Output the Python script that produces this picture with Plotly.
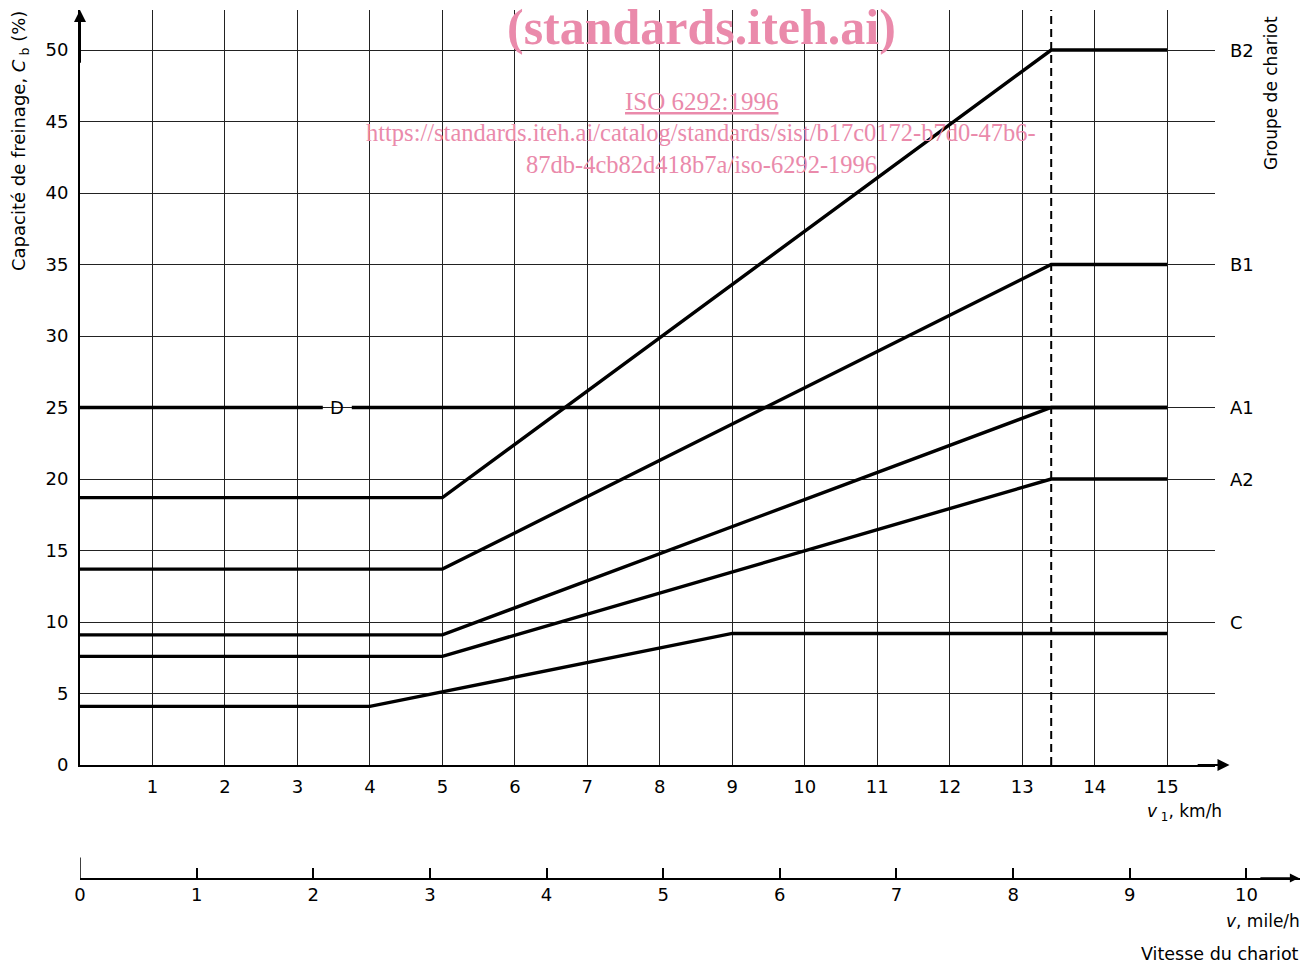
import plotly.graph_objects as go

# ---- data (km/h vs braking capacity %) ----
x_flat5 = [0, 5, 13.4, 15]
y_B2 = [18.7, 18.7, 50, 50]
y_B1 = [13.7, 13.7, 35, 35]
y_A1 = [9.1, 9.1, 25, 25]
y_A2 = [7.6, 7.6, 20, 20]
x_C = [0, 4, 9, 15]
y_C = [4.1, 4.1, 9.2, 9.2]
x_D = [0, 3.35, None, 3.75, 15]
y_D = [25, 25, None, 25, 25]
x_limit = 13.4

group_labels = ["B2", "B1", "A1", "A2", "C"]
group_label_y = [50, 35, 25, 20, 10]
kmh_ticks = list(range(1, 16))
mph_ticks = list(range(0, 11))
cb_ticks = list(range(0, 55, 5))

FONT = "DejaVu Sans"
SERIF = "Liberation Serif"
PINK = "#ea8aab"

# geometry helpers (reference pixel -> paper fraction); plot area 1220 x 930
def px(xp):
    return (xp - 80) / 1220

def py(yp):
    return (940 - yp) / 930

fig = go.Figure()
curve = dict(color="black", width=3.4)
for yy in [y_B2, y_B1, y_A1, y_A2]:
    fig.add_trace(go.Scatter(x=x_flat5, y=yy, mode="lines", line=curve,
                             showlegend=False, hoverinfo="skip"))
fig.add_trace(go.Scatter(x=x_C, y=y_C, mode="lines", line=curve,
                         showlegend=False, hoverinfo="skip"))
fig.add_trace(go.Scatter(x=x_D, y=y_D, mode="lines", line=curve,
                         showlegend=False, hoverinfo="skip", connectgaps=False))
fig.add_trace(go.Scatter(x=[x_limit, x_limit], y=[0, 52.8], mode="lines",
                         line=dict(color="black", width=2, dash="8px,5px"),
                         showlegend=False, hoverinfo="skip"))
# invisible trace that carries the mile/h axis
fig.add_trace(go.Scatter(x=[0], y=[0.5], xaxis="x2", yaxis="y2", mode="markers",
                         marker=dict(opacity=0), showlegend=False, hoverinfo="skip"))

mph_pos = py(878)
fig.update_layout(
    width=1304, height=957,
    margin=dict(l=72, r=12, t=2, b=25),
    paper_bgcolor="white", plot_bgcolor="rgba(0,0,0,0)",
    font=dict(family=FONT, color="black", size=17),
    xaxis=dict(domain=[0, px(1215)], range=[0, 15.66], anchor="y",
               tickvals=kmh_ticks, ticktext=[str(v) for v in kmh_ticks],
               showgrid=True, gridcolor="#222", gridwidth=1,
               showline=True, linecolor="black", linewidth=2,
               zeroline=False, ticks="", ticklabelstandoff=4,
               tickfont=dict(size=18, family=FONT)),
    yaxis=dict(domain=[py(765), 1], range=[0, 52.8], anchor="x",
               tickvals=cb_ticks, ticktext=[str(v) for v in cb_ticks],
               showgrid=True, gridcolor="#222", gridwidth=1,
               showline=True, linecolor="black", linewidth=2,
               zeroline=False, ticks="", ticklabelstandoff=6,
               tickfont=dict(size=18, family=FONT)),
    xaxis2=dict(domain=[0, 1], range=[0, 1220 / 116.64], anchor="y2",
                tickvals=mph_ticks, ticktext=[str(v) for v in mph_ticks],
                showgrid=False, zeroline=False,
                showline=True, linecolor="black", linewidth=1.5,
                ticks="inside", ticklen=10, tickwidth=1.5, tickcolor="black",
                tickfont=dict(size=18, family=FONT)),
    yaxis2=dict(domain=[mph_pos, mph_pos + 0.04], range=[0, 1], anchor="x2",
                visible=False),
)

# taller origin tick of the mile/h scale
fig.add_shape(type="line", xref="x2", yref="y2", x0=0, x1=0, y0=0, y1=0.55,
              line=dict(color="black", width=1.5))

ann = []
# axis arrows
ann.append(dict(x=15.86, y=0, ax=15.4, ay=0, xref="x", yref="y", axref="x", ayref="y",
                text="", showarrow=True, arrowhead=2, arrowsize=1.2, arrowwidth=2,
                arrowcolor="black"))
ann.append(dict(x=0, y=52.8, ax=0, ay=49, xref="x", yref="y", axref="x", ayref="y",
                text="", showarrow=True, arrowhead=2, arrowsize=1.2, arrowwidth=2,
                arrowcolor="black"))
ann.append(dict(x=10.45, y=mph_pos, ax=-40, ay=0,
                xref="x2", yref="paper", axref="pixel", ayref="pixel",
                text="", showarrow=True, arrowhead=2, arrowsize=1.2, arrowwidth=1.5,
                arrowcolor="black"))
# D label
ann.append(dict(x=3.55, y=25, xref="x", yref="y", text="D", showarrow=False,
                xanchor="center", yanchor="middle", font=dict(size=18)))
# group labels
for lab, yv in zip(group_labels, group_label_y):
    ann.append(dict(x=px(1228), y=yv, xref="paper", yref="y", text=lab,
                    showarrow=False, xanchor="left", yanchor="middle",
                    font=dict(size=18)))
ann.append(dict(x=px(1271), y=py(14), xref="paper", yref="paper",
                text="Groupe de chariot", textangle=-90, showarrow=False,
                xanchor="center", yanchor="top", font=dict(size=17)))
ann.append(dict(x=px(20), y=py(9), xref="paper", yref="paper",
                text="Capacité de freinage, <i>C</i><sub> b</sub> (%)", textangle=-90,
                showarrow=False, xanchor="center", yanchor="top", font=dict(size=18)))
ann.append(dict(x=px(1224), y=py(812), xref="paper", yref="paper",
                text="<i>v</i><sub> 1</sub>, km/h", showarrow=False, xanchor="right",
                yanchor="middle", font=dict(size=17)))
ann.append(dict(x=px(1302), y=py(921), xref="paper", yref="paper",
                text="<i>v</i>, mile/h", showarrow=False, xanchor="right",
                yanchor="middle", font=dict(size=17)))
ann.append(dict(x=px(1301), y=py(954), xref="paper", yref="paper",
                text="Vitesse du chariot", showarrow=False, xanchor="right",
                yanchor="middle", font=dict(size=17.5)))
# watermark
wm_x = px(701)
ann.append(dict(x=wm_x, y=py(27), xref="paper", yref="paper",
                text="<b>(standards.iteh.ai)</b>", showarrow=False,
                xanchor="center", yanchor="middle",
                font=dict(family=SERIF, size=50, color=PINK)))
ann.append(dict(x=wm_x, y=py(101), xref="paper", yref="paper",
                text="<u>ISO 6292:1996</u>", showarrow=False,
                xanchor="center", yanchor="middle",
                font=dict(family=SERIF, size=25, color=PINK)))
ann.append(dict(x=wm_x, y=py(133), xref="paper", yref="paper",
                text="https://standards.iteh.ai/catalog/standards/sist/b17c0172-b7d0-47b6-",
                showarrow=False, xanchor="center", yanchor="middle",
                font=dict(family=SERIF, size=24.5, color=PINK)))
ann.append(dict(x=wm_x, y=py(165), xref="paper", yref="paper",
                text="87db-4cb82d418b7a/iso-6292-1996", showarrow=False,
                xanchor="center", yanchor="middle",
                font=dict(family=SERIF, size=24.5, color=PINK)))
fig.update_layout(annotations=ann)

fig.write_html("out.html")
